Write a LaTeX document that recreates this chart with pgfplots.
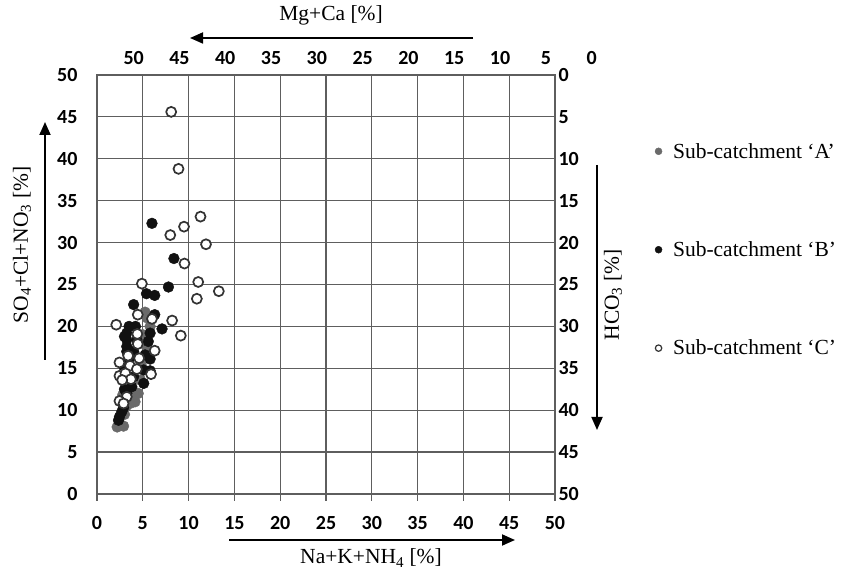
\documentclass[border=0pt]{standalone}
\usepackage{pgfplots}
\pgfplotsset{compat=1.18}
\usepackage{fontspec}
\setmainfont{Liberation Serif}
\newfontfamily\tickfont{Carlito}
\usetikzlibrary{arrows.meta}
\definecolor{gridc}{HTML}{5E5E5E}
\definecolor{colA}{HTML}{6A6A6A}
\definecolor{colB}{HTML}{111111}
\definecolor{colC}{HTML}{333333}
\begin{document}
\begin{tikzpicture}[x=1pt,y=1pt]
\path[use as bounding box] (0,0) rectangle (847,573);
\begin{axis}[
 scale only axis, width=458pt, height=419pt,
 at={(97pt,79pt)}, anchor=south west,
 xmin=0,xmax=50,ymin=0,ymax=50,
 xtick={0,5,...,50}, ytick={0,5,...,50},
 grid=major, major grid style={draw=gridc, line width=1.2pt},
 axis line style={draw=gridc, line width=1.2pt},
 xtick pos=bottom, ytick pos=left,
 tick align=outside, major tick length=7pt,
 xtick style={draw=gridc, line width=1.2pt},
 ytick style={draw=none},
 /pgf/number format/assume math mode=true,
 ticklabel style={font=\tickfont\bfseries\fontsize{20}{24}\selectfont},
 xticklabel style={anchor=center, yshift=-22pt},
 yticklabel style={anchor=east, xshift=-9pt},
 clip=false,
 legend style={at={(1.2115,0.8475)}, anchor=north west, draw=none, fill=none,
   font=\fontsize{21.5}{26}\selectfont, row sep=78pt,
   /tikz/every odd column/.append style={column sep=9pt}},
 legend cell align=left,
]
% Sub-catchment A
\addplot[only marks, mark=*, mark size=5.4pt, mark options={fill=colA, draw=colA}, forget plot] coordinates {
(5.25,21.7)(5.5,21.0)(5.8,20.0)(5.0,19.0)(5.4,17.6)(4.8,15.5)(4.75,13.6)(3.5,12.5)(4.5,12.0)(4.0,12.2)(2.8,11.8)(4.0,11.6)(4.15,11.0)(3.6,10.8)(3.2,10.5)(3.0,9.5)(2.35,8.1)(2.9,8.1)(2.2,8.0)
};
% Sub-catchment B
\addplot[only marks, mark=*, mark size=5.4pt, mark options={fill=colB, draw=colB}, forget plot] coordinates {
(6.0,32.3)(8.4,28.1)(7.8,24.7)(5.4,23.9)(6.3,23.7)(4.0,22.6)(6.3,21.4)(3.5,20.0)(4.2,20.0)(7.1,19.7)(3.25,19.2)(5.8,19.2)(3.0,18.8)(3.25,18.4)(4.35,18.4)(5.6,18.2)(3.25,17.6)(3.25,17.0)(4.0,17.0)(5.25,16.6)(5.8,16.1)(3.5,16.0)(2.9,15.3)(5.1,14.8)(5.8,14.7)(4.0,14.0)(5.1,13.2)(3.8,12.8)(3.0,12.5)(3.25,12.0)(2.9,10.3)(2.7,9.8)(2.45,9.2)(2.35,8.8)
};
% Sub-catchment C
\addplot[only marks, mark=*, mark size=5pt, mark options={fill=white, draw=colC, line width=1.7pt}, forget plot] coordinates {
(8.1,45.6)(8.9,38.8)(11.3,33.1)(9.5,31.9)(8.0,30.9)(11.9,29.8)(9.55,27.5)(4.9,25.1)(11.05,25.3)(13.3,24.2)(10.9,23.3)(4.45,21.4)(6.0,20.9)(8.2,20.7)(2.1,20.2)(9.15,18.9)(4.4,19.1)(4.45,17.9)(6.3,17.1)(3.4,16.5)(4.6,16.2)(2.45,15.7)(3.6,15.3)(4.35,14.9)(5.9,14.3)(2.45,14.1)(3.1,14.4)(3.7,13.7)(2.75,13.6)(3.25,11.6)(2.45,11.1)(2.9,10.8)
};
\addlegendimage{only marks, mark=*, mark size=3.5pt, mark options={fill=colA, draw=colA}}
\addlegendimage{only marks, mark=*, mark size=3.5pt, mark options={fill=colB, draw=colB}}
\addlegendimage{only marks, mark=*, mark size=3.2pt, mark options={fill=white, draw=colC, line width=1.2pt}}
\legend{Sub-catchment ‘A’, Sub-catchment ‘B’, Sub-catchment ‘C’}
\pgfplotsinvokeforeach{0,5,...,50}{
  \node[font=\tickfont\bfseries\fontsize{20}{24}\selectfont, anchor=center] at (axis cs:{54-#1},50) [yshift=17pt] {#1};
  \node[font=\tickfont\bfseries\fontsize{20}{24}\selectfont, anchor=west] at (axis cs:50,{50-#1}) {#1};
}
\end{axis}
% arrows and axis titles
\draw[line width=1.8pt, -{Triangle[length=13pt,width=11pt]}] (473,535) -- (190,535);
\node[font=\fontsize{21.5}{26}\selectfont] at (331,558) {Mg+Ca [\%]};
\draw[line width=1.8pt, -{Triangle[length=13pt,width=11pt]}] (229,33) -- (515,33);
\node[font=\fontsize{21.5}{26}\selectfont] at (371,15) {Na+K+NH\textsubscript{4} [\%]};
\draw[line width=1.8pt, -{Triangle[length=13pt,width=11pt]}] (45,213) -- (45,451);
\node[font=\fontsize{21.5}{26}\selectfont, rotate=90] at (22,328) {SO\textsubscript{4}+Cl+NO\textsubscript{3} [\%]};
\draw[line width=1.8pt, -{Triangle[length=13pt,width=11pt]}] (597,408) -- (597,143);
\node[font=\fontsize{21.5}{26}\selectfont, rotate=90] at (613,278) {HCO\textsubscript{3} [\%]};
\end{tikzpicture}
\end{document}
